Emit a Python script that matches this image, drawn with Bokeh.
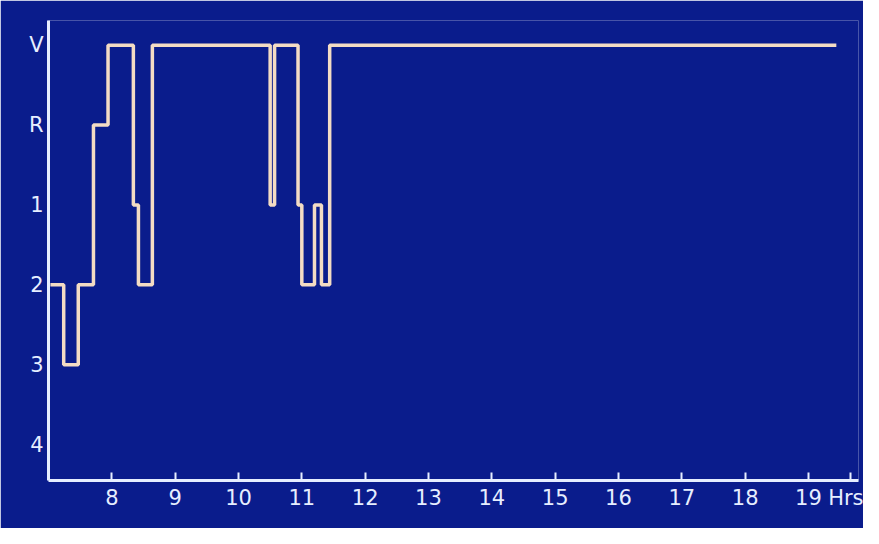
from bokeh.plotting import figure
from bokeh.models import FixedTicker, Range1d
from bokeh.embed import file_html
from bokeh.resources import INLINE

# times (hours) where stage changes, and stage level (5=W,4=REM,3=1,2=2,1=3,0=4)
times = [7.03, 7.24, 7.47, 7.71, 7.94, 8.34, 8.42, 8.64, 10.50, 10.57, 10.94, 11.00, 11.20, 11.31, 11.44, 19.44]
stages = [2, 1, 2, 4, 5, 3, 2, 5, 3, 5, 3, 2, 3, 2, 5, 5]
stage_labels = {5: "V", 4: "R", 3: "1", 2: "2", 1: "3", 0: "4"}
hour_ticks = [8, 9, 10, 11, 12, 13, 14, 15, 16, 17, 18, 19]

p = figure(width=863, height=528, output_backend="svg", toolbar_location=None,
           x_range=Range1d(7, 19.79), y_range=Range1d(-0.45, 5.31),
           min_border_left=48, min_border_right=5, min_border_top=20, min_border_bottom=48)
p.background_fill_color = "#0a1c8c"
p.border_fill_color = "#0a1c8c"
p.outline_line_color = None
p.grid.visible = False

p.step(times, stages, mode="after", line_color="#f3dcc4", line_width=3.5)

for ax in (p.xaxis[0], p.yaxis[0]):
    ax.axis_line_color = "#e6eeff"
    ax.axis_line_width = 3
    ax.major_tick_line_color = "#e6eeff"
    ax.major_tick_line_width = 2
    ax.minor_tick_line_color = None
    ax.major_label_text_color = "#e6eeff"
    ax.major_label_text_font = "DejaVu Sans"
    ax.major_label_text_font_size = "21px"

p.xaxis.ticker = FixedTicker(ticks=hour_ticks + [19.67])
p.xaxis.major_label_overrides = {**{t: str(t) for t in hour_ticks}, 19.67: "Hrs"}
p.xaxis.major_tick_in = 8
p.xaxis.major_tick_out = 0
p.yaxis.ticker = FixedTicker(ticks=list(stage_labels.keys()))
p.yaxis.major_label_overrides = stage_labels
p.yaxis.major_tick_in = 0
p.yaxis.major_tick_out = 0

open("out.html", "w").write(file_html(p, INLINE))
